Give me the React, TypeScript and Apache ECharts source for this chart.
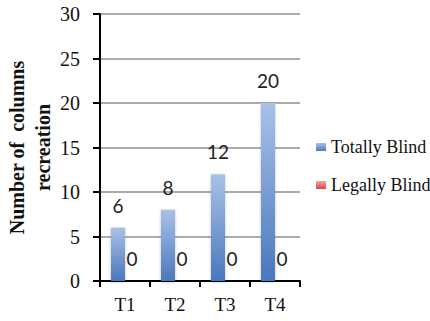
import React, { useEffect, useRef } from "react";
import * as echarts from "echarts";

const categories = ["T1", "T2", "T3", "T4"];
const totallyBlind = [6, 8, 12, 20];
const legallyBlind = [0, 0, 0, 0];
const yTicks = { min: 0, max: 30, interval: 5 };

export default function App() {
  const ref = useRef<HTMLDivElement>(null);
  useEffect(() => {
    if (!ref.current) return;
    const chart = echarts.init(ref.current, null, { renderer: "svg" });
    const serif = "Liberation Serif";
    const labelStyle = {
      show: true,
      position: "top" as const,
      distance: 13,
      fontFamily: "Lato",
      fontSize: 19,
      color: "#222",
    };
    chart.setOption({
      animation: false,
      backgroundColor: "#ffffff",
      grid: { left: 100, right: 130, top: 14, bottom: 40, containLabel: false, outerBoundsMode: "none" },
      legend: {
        orient: "vertical",
        left: 311,
        top: 133,
        itemGap: 20,
        itemWidth: 10,
        itemHeight: 8,
        icon: "rect",
        textStyle: { fontFamily: serif, fontSize: 18, color: "#111" },
        data: ["Totally Blind", "Legally Blind"],
      },
      xAxis: {
        type: "category",
        data: categories,
        axisLine: { lineStyle: { color: "#000", width: 2 } },
        axisTick: { show: true, length: 6, alignWithLabel: false, lineStyle: { color: "#000", width: 2 } },
        axisLabel: { fontFamily: serif, fontSize: 19, color: "#111", margin: 14 },
      },
      yAxis: {
        type: "value",
        min: yTicks.min,
        max: yTicks.max,
        interval: yTicks.interval,
        name: "Number of  columns\nrecreation",
        nameLocation: "middle",
        nameRotate: 90,
        nameGap: 44,
        nameTextStyle: {
          fontFamily: serif,
          fontSize: 20,
          fontWeight: "bold",
          color: "#111",
          lineHeight: 26,
          align: "center",
        },
        axisLine: { show: true, lineStyle: { color: "#000", width: 2 } },
        axisTick: { show: true, length: 7, lineStyle: { color: "#000", width: 2 } },
        axisLabel: { fontFamily: serif, fontSize: 20, color: "#111", margin: 20 },
        splitLine: { lineStyle: { color: "#8f8f8f", width: 1.5 } },
      },
      series: [
        {
          name: "Totally Blind",
          type: "bar",
          data: totallyBlind,
          barWidth: 14,
          barGap: "0%",
          itemStyle: {
            color: new echarts.graphic.LinearGradient(0, 0, 0, 1, [
              { offset: 0, color: "#a9c1e7" },
              { offset: 1, color: "#4978bd" },
            ]),
            shadowColor: "rgba(0,0,0,0.25)",
            shadowBlur: 3,
            shadowOffsetY: 1,
          },
          label: labelStyle,
        },
        {
          name: "Legally Blind",
          type: "bar",
          data: legallyBlind,
          barWidth: 14,
          itemStyle: {
            color: new echarts.graphic.LinearGradient(0, 0, 0, 1, [
              { offset: 0, color: "#f4a3a3" },
              { offset: 1, color: "#d6484b" },
            ]),
          },
          label: labelStyle,
        },
      ],
    });
    return () => chart.dispose();
  }, []);
  return <div ref={ref} style={{ width: 430, height: 321, position: "absolute", left: 0, top: 0 }} />;
}
